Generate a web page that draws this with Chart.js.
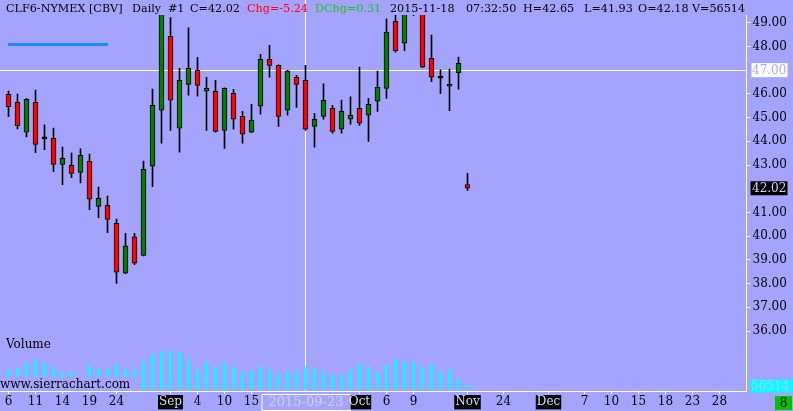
<!DOCTYPE html>
<html>
<head>
<meta charset="utf-8">
<script src="https://cdn.jsdelivr.net/npm/chart.js@4.4.1/dist/chart.umd.min.js"></script>
<style>
  html, body { margin: 0; padding: 0; background: #a4a4ff; }
  canvas { display: block; }
</style>
</head>
<body>
<canvas id="clChart" width="793" height="411"></canvas>
<script>
// daily bars, CLF6 (one gap between Oct 16 and Nov 18), then empty future days
const dates = [
  '2015-08-06','2015-08-07','2015-08-10','2015-08-11','2015-08-12','2015-08-13','2015-08-14',
  '2015-08-17','2015-08-18','2015-08-19','2015-08-20','2015-08-21','2015-08-24','2015-08-25',
  '2015-08-26','2015-08-27','2015-08-28','2015-08-31','2015-09-01','2015-09-02','2015-09-03',
  '2015-09-04','2015-09-08','2015-09-09','2015-09-10','2015-09-11','2015-09-14','2015-09-15',
  '2015-09-16','2015-09-17','2015-09-18','2015-09-21','2015-09-22','2015-09-23','2015-09-24',
  '2015-09-25','2015-09-28','2015-09-29','2015-09-30','2015-10-01','2015-10-02','2015-10-05',
  '2015-10-06','2015-10-07','2015-10-08','2015-10-09','2015-10-12','2015-10-13','2015-10-14',
  '2015-10-15','2015-10-16','2015-11-18',
  '2015-11-19','2015-11-20','2015-11-23','2015-11-24','2015-11-25','2015-11-26','2015-11-27',
  '2015-11-30','2015-12-01','2015-12-02','2015-12-03','2015-12-04','2015-12-07','2015-12-08',
  '2015-12-09','2015-12-10','2015-12-11','2015-12-14','2015-12-15','2015-12-16','2015-12-17',
  '2015-12-18','2015-12-21','2015-12-22','2015-12-23','2015-12-24','2015-12-25','2015-12-28',
  '2015-12-29','2015-12-30','2015-12-31'
];

const opens  = [45.98,45.64,44.38,45.64,44.12,44.13,43.03,42.99,42.69,43.16,41.26,41.30,40.54,38.44,39.97,39.19,42.95,45.31,48.43,44.55,
                46.40,46.99,46.11,46.11,44.46,46.02,45.05,44.38,45.48,47.46,47.20,45.31,46.70,46.57,44.63,45.05,45.39,44.51,44.93,45.39,
                45.10,45.69,46.23,49.06,48.14,49.60,49.80,47.50,46.68,46.32,46.89,42.18];
const highs  = [46.12,45.99,45.81,46.16,44.69,44.56,43.76,43.51,43.68,43.46,42.07,41.69,40.72,40.12,40.12,43.17,46.20,49.90,49.22,47.08,
                48.78,47.54,46.70,46.57,46.25,46.19,45.26,45.56,47.67,48.05,47.22,46.99,46.78,47.20,45.18,46.42,45.52,45.74,45.87,47.13,
                45.81,46.96,49.16,49.34,49.50,50.10,50.00,48.48,47.01,47.05,47.55,42.65];
const lows   = [45.04,44.52,44.19,43.52,43.65,42.72,42.17,42.47,42.25,41.12,40.78,40.15,38.01,38.42,38.80,39.17,42.09,43.92,44.46,43.54,
                45.94,45.90,44.46,44.38,43.70,44.51,43.92,44.36,45.14,46.70,44.63,45.10,45.43,44.46,43.75,44.93,44.34,44.34,44.72,44.67,
                44.00,45.26,45.81,47.76,47.82,49.30,47.10,46.51,46.01,45.29,46.20,41.93];
const closes = [45.46,44.66,45.77,43.87,44.10,43.03,43.28,42.65,43.41,41.56,41.60,40.71,38.48,39.59,38.86,42.82,45.52,49.70,45.73,46.57,
                47.08,46.36,46.23,44.42,46.23,44.93,44.30,44.89,47.46,47.20,45.05,46.97,46.40,44.51,44.93,45.73,44.42,45.26,45.10,44.76,
                45.56,46.28,48.61,47.81,49.40,49.80,47.13,46.70,46.66,46.40,47.29,42.02];
const volumes = [331000,365000,445000,502000,445000,377000,296000,296000,137000,411000,343000,343000,433000,343000,331000,480000,
                 605000,651000,651000,639000,502000,343000,468000,377000,445000,365000,296000,308000,377000,331000,262000,308000,
                 308000,387000,343000,308000,250000,250000,331000,433000,377000,296000,411000,502000,468000,468000,377000,433000,
                 308000,343000,171000,56514];

const priceTicks = [36, 37, 38, 39, 40, 41, 43, 44, 45, 46, 48, 49];
const tickIdx  = [0, 3, 6, 9, 12, 18, 21, 24, 27, 39, 42, 45, 51, 55, 60, 64, 67, 70, 73, 76, 79];
const tickText = ['6','11','14','19','24','Sep','4','10','15','Oct','6','9','Nov','24','Dec','7','10','15','18','23','28'];
const monthLabels = ['Sep', 'Oct', 'Nov', 'Dec'];

const headerText = ['CLF6-NYMEX [CBV]','Daily','#1','C=42.02','Chg=-5.24','DChg=0.31',
                    '2015-11-18','07:32:50','H=42.65','L=41.93','O=42.18','V=56514'];
const lastPrice = 42.02;
const cursorPrice = 47.00;
const cursorIdx = 33;
const lastVolume = 56514;

const BG = '#a4a4ff';
const FONT = "'DejaVu Serif'";

const bodyColors = opens.map((o, i) => {
  if (Math.abs(closes[i] - o) < 0.03) return '#000000';
  return closes[i] > o ? '#008000' : '#ff0000';
});
const noClip = { left: 10, right: 0, top: 0, bottom: 0 };

// background, cursor lines, title and the little value boxes
const sierraLook = {
  id: 'sierraLook',
  beforeDraw(chart) {
    const c = chart.ctx;
    c.save();
    c.fillStyle = BG;
    c.fillRect(0, 0, chart.width, chart.height);
    c.restore();
  },
  beforeDatasetsDraw(chart) {
    const c = chart.ctx, a = chart.chartArea;
    const x = Math.round(chart.scales.x.getPixelForValue(cursorIdx) - 0.5) + 0.5;
    const y = Math.round(chart.scales.y.getPixelForValue(cursorPrice) - 0.5) + 0.5;
    c.save();
    c.strokeStyle = '#ffffff';
    c.lineWidth = 1;
    c.beginPath();
    c.moveTo(x, 0); c.lineTo(x, a.bottom);
    c.moveTo(0, y); c.lineTo(a.right, y);
    c.stroke();
    // study line in the corner
    c.strokeStyle = '#1a8cff';
    c.lineWidth = 3;
    c.beginPath();
    c.moveTo(8, 44.5); c.lineTo(108, 44.5);
    c.stroke();
    c.restore();
  },
  afterDraw(chart) {
    const c = chart.ctx, a = chart.chartArea;
    const ys = chart.scales.y, vs = chart.scales.vol, xs = chart.scales.x;
    c.save();

    // watermark with its own background
    c.fillStyle = BG;
    c.fillRect(0, 377, 136, a.bottom - 377);
    c.fillStyle = '#000';
    c.font = '12px ' + FONT;
    c.textBaseline = 'alphabetic';
    c.textAlign = 'left';
    c.fillText('www.sierrachart.com', 0, 388);
    c.fillText('Volume', 6, 347.5);

    // bottom border from the very left
    c.strokeStyle = '#ffffff';
    c.lineWidth = 1;
    c.beginPath();
    c.moveTo(0, a.bottom + 0.5); c.lineTo(a.right, a.bottom + 0.5);
    c.stroke();

    // header line
    const hx = [6, 132, 168, 190, 247, 315, 390, 466, 523, 584, 638, 692];
    c.font = '11.2px ' + FONT;
    headerText.forEach((t, i) => {
      c.fillStyle = i === 4 ? '#ff0000' : i === 5 ? '#22c022' : '#000';
      c.fillText(t, hx[i], 12);
    });

    // price boxes on the right axis
    c.font = '12px ' + FONT;
    c.textBaseline = 'middle';
    const yc = ys.getPixelForValue(cursorPrice);
    c.fillStyle = '#ffffff';
    c.fillRect(751.5, yc - 7, 36, 14);
    c.fillStyle = '#a8a8ff';
    c.fillText(cursorPrice.toFixed(2), 752, yc + 0.5);

    const yl = ys.getPixelForValue(lastPrice);
    c.fillStyle = '#000000';
    c.fillRect(750.5, yl - 7, 37, 14);
    c.fillStyle = '#d0d0ff';
    c.fillText(lastPrice.toFixed(2), 752, yl + 0.5);

    const yv = vs.getPixelForValue(lastVolume);
    c.fillStyle = '#00ffff';
    c.fillRect(750.5, yv - 6.5, 42, 13);
    c.fillStyle = '#c0c0ff';
    c.fillText(String(lastVolume), 751, yv + 0.5);

    c.fillStyle = '#00c000';
    c.fillRect(775, 396, 17, 14);
    c.fillStyle = '#000';
    c.textAlign = 'center';
    c.fillText('8', 783.5, 403.5);

    // cursor date box
    const xc = xs.getPixelForValue(cursorIdx);
    c.fillStyle = BG;
    c.fillRect(xc - 43, 394, 87, 16);
    c.strokeStyle = '#ffffff';
    c.strokeRect(xc - 43.5, 394.5, 88, 16);
    c.fillStyle = '#d0d0ff';
    c.font = '13px ' + FONT;
    c.fillText(dates[cursorIdx], xc + 0.5, 403);
    c.restore();
  }
};

const chart = new Chart(document.getElementById('clChart'), {
  type: 'bar',
  data: {
    labels: dates,
    datasets: [
      {
        label: 'body',
        data: opens.map((o, i) => [o, closes[i]]),
        backgroundColor: bodyColors,
        borderColor: '#000',
        borderWidth: 1,
        borderSkipped: false,
        barThickness: 5,
        minBarLength: 2,
        grouped: false,
        order: 0,
        yAxisID: 'y',
        clip: noClip
      },
      {
        label: 'wick',
        data: lows.map((l, i) => [l, highs[i]]),
        backgroundColor: '#000',
        barThickness: 1,
        grouped: false,
        order: 1,
        yAxisID: 'y',
        clip: noClip
      },
      {
        label: 'Volume',
        data: volumes,
        backgroundColor: '#00ffff',
        barThickness: 2,
        grouped: false,
        order: 2,
        yAxisID: 'vol',
        clip: noClip
      }
    ]
  },
  options: {
    responsive: false,
    animation: false,
    devicePixelRatio: 1,
    layout: { padding: { left: 8.5, top: 15, right: 0, bottom: 0 } },
    plugins: {
      legend: { display: false },
      tooltip: { enabled: false },
      title: { display: false }
    },
    scales: {
      x: {
        offset: false,
        grid: { drawOnChartArea: false, offset: false, color: '#ffffff', tickLength: 3 },
        border: { display: false },
        afterBuildTicks: (scale) => { scale.ticks = tickIdx.map(v => ({ value: v })); },
        afterFit: (scale) => { scale.height = 20; },
        ticks: {
          autoSkip: false,
          maxRotation: 0,
          padding: 1,
          font: { family: 'DejaVu Serif', size: 12 },
          color: (ctx) => monthLabels.includes(tickText[ctx.index]) ? '#d8d8ff' : '#000',
          showLabelBackdrop: (ctx) => monthLabels.includes(tickText[ctx.index]),
          backdropColor: '#000',
          backdropPadding: { x: 1, y: 0 },
          callback: (val, idx) => tickText[idx]
        }
      },
      y: {
        position: 'right',
        min: 33.473,
        max: 49.325,
        grid: { drawOnChartArea: false, color: '#ffffff', tickLength: 4 },
        border: { color: '#ffffff' },
        afterBuildTicks: (scale) => { scale.ticks = priceTicks.map(v => ({ value: v })); },
        afterFit: (scale) => { scale.width = 46.5; },
        ticks: {
          padding: 2,
          font: { family: 'DejaVu Serif', size: 12 },
          color: '#000',
          callback: (v) => Number(v).toFixed(2)
        }
      },
      vol: {
        display: false,
        min: -29000,
        max: 6410000
      }
    }
  },
  plugins: [sierraLook]
});
</script>
</body>
</html>
